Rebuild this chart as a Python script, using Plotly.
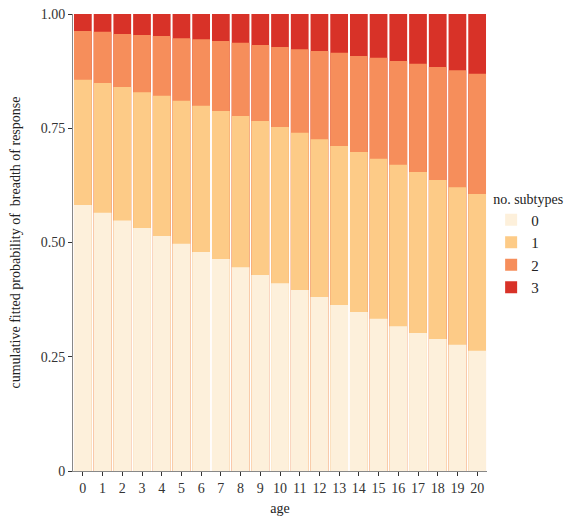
import plotly.graph_objects as go

ages = [str(a) for a in range(21)]
categories = ["0", "1", "2", "3"]
# cumulative fitted probabilities (upper edge of each category's segment)
cum0 = [0.582, 0.565, 0.548, 0.532, 0.514, 0.497, 0.479, 0.464, 0.446, 0.429, 0.411,
        0.396, 0.381, 0.363, 0.348, 0.333, 0.317, 0.302, 0.289, 0.276, 0.263]
cum1 = [0.856, 0.849, 0.840, 0.829, 0.821, 0.810, 0.799, 0.788, 0.777, 0.766, 0.753,
        0.740, 0.726, 0.711, 0.698, 0.683, 0.670, 0.654, 0.637, 0.621, 0.606]
cum2 = [0.963, 0.961, 0.956, 0.954, 0.952, 0.947, 0.945, 0.941, 0.937, 0.932, 0.928,
        0.923, 0.919, 0.915, 0.908, 0.904, 0.897, 0.891, 0.884, 0.877, 0.869]
cum3 = [1.0] * 21
y_ticks = [0, 0.25, 0.5, 0.75, 1.0]
y_tick_labels = ["0", "0.25", "0.50", "0.75", "1.00"]

colors = {"0": "#fdf0db", "1": "#fdcb87", "2": "#f68e5b", "3": "#d83228"}
series = {"0": cum0, "1": cum1, "2": cum2, "3": cum3}

FONT = "Liberation Serif"
fig = go.Figure()
# draw the tallest (cumulative) bars first so smaller ones overlay them
for cat in ["3", "2", "1", "0"]:
    fig.add_trace(go.Bar(
        x=ages, y=series[cat], name=cat, marker_color=colors[cat],
        marker_line_width=0, legendrank=int(cat) + 1,
    ))

# page body has an 8px default margin, so the figure is offset by 8px
fig.update_layout(
    width=569, height=511,
    barmode="overlay", bargap=0.1,
    plot_bgcolor="white", paper_bgcolor="white",
    margin=dict(l=65, r=90, t=6, b=48, autoexpand=False),
    font=dict(family=FONT, size=14, color="#333333"),
    legend=dict(
        title=dict(text="no. subtypes", font=dict(family=FONT, size=14, color="#222222")),
        x=1.01, xanchor="left", y=0.625, yanchor="top",
        font=dict(family=FONT, size=15, color="#222222"),
        tracegroupgap=0, itemwidth=30,
    ),
    showlegend=True,
)
fig.update_xaxes(
    title=dict(text="age", font=dict(family=FONT, size=14, color="#222222"), standoff=8),
    range=[-0.5, 20.5], showline=True, linecolor="#888888", linewidth=1,
    ticks="outside", ticklen=4, tickcolor="#333333", automargin=False,
    tickfont=dict(family=FONT, size=14, color="#333333"), showgrid=False,
    ticklabeloverflow="allow",
)
fig.update_yaxes(
    title=dict(text="cumulative fitted probability of \u00a0breadth of response",
               font=dict(family=FONT, size=14, color="#222222"), standoff=20),
    range=[0, 1], tickvals=y_ticks, ticktext=y_tick_labels, automargin=False,
    showline=True, linecolor="#888888", linewidth=1,
    ticks="outside", ticklen=4, tickcolor="#333333", ticklabeloverflow="allow",
    tickfont=dict(family=FONT, size=14, color="#333333"), showgrid=False, zeroline=False,
)
fig.write_html("out.html")
